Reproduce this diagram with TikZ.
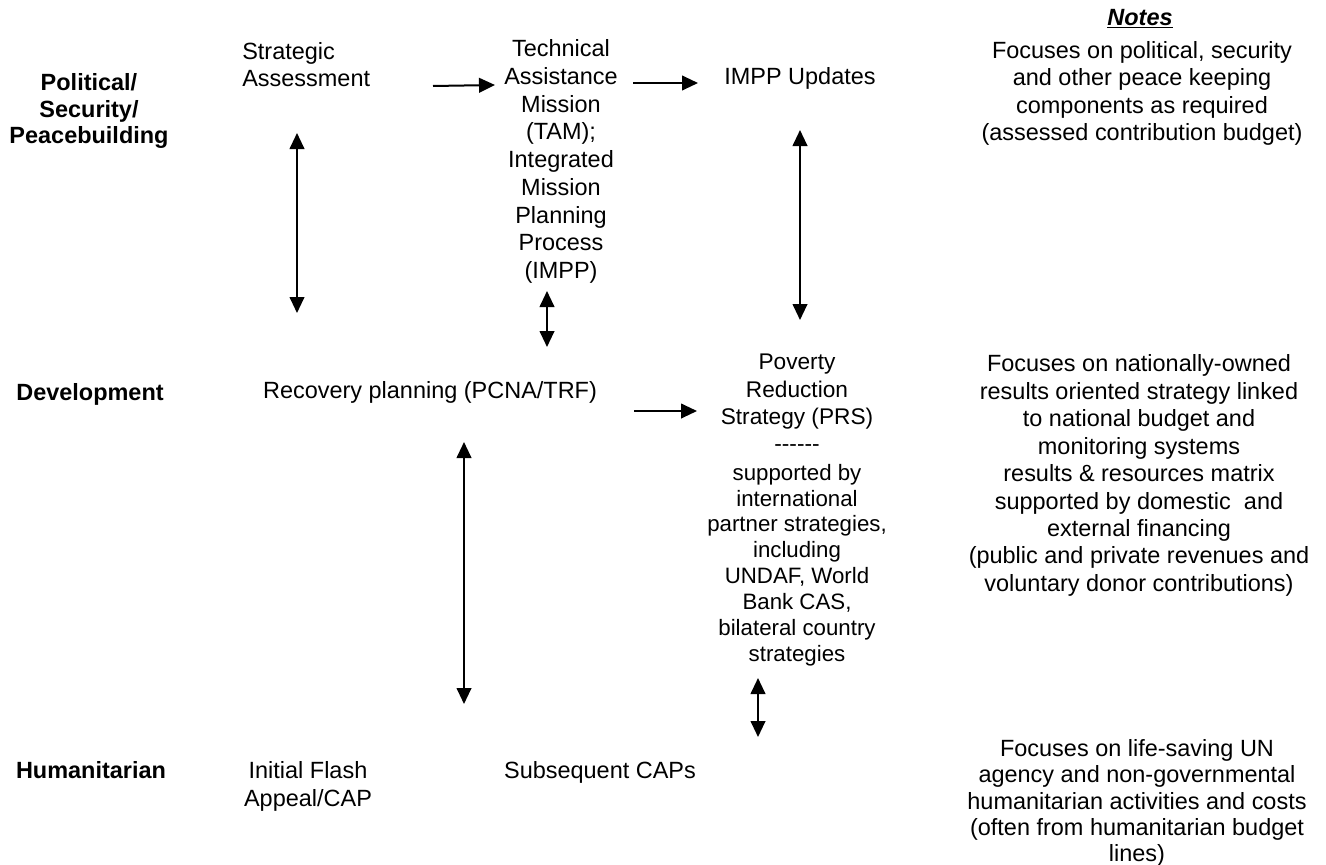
\documentclass[tikz,border=0pt]{standalone}
\usepackage{fontspec}
\setmainfont{Liberation Sans}
\usetikzlibrary{arrows.meta}
\begin{document}
\begin{tikzpicture}[x=0.75pt,y=-0.75pt,
  txt/.style={inner sep=0pt, align=center, font=\fontsize{17.6}{20.6}\selectfont},
  lbl/.style={inner sep=0pt, align=center, font=\fontsize{17.6}{19.9}\selectfont\bfseries},
  tip/.style={},
  arr/.style={line width=1.5pt, -{Triangle[length=12pt,width=11pt]}},
  darr/.style={line width=1.5pt, {Triangle[length=12pt,width=11pt]}-{Triangle[length=12pt,width=11pt]}}]
\useasboundingbox (0,0) rectangle (1326,864);

% row labels
\node[lbl] (pol) at (89,111) {Political/\\Security/\\Peacebuilding};
\node[lbl] (dev) at (90,394) {Development};
\node[lbl] (hum) at (91,770) {Humanitarian};

% political row
\node[txt, anchor=west, align=left] (sa) at (242,64.5) {Strategic\\Assessment};
\node[txt, font=\fontsize{17.6}{20.8}\selectfont] (tam) at (561,161.5) {Technical\\Assistance\\Mission\\(TAM);\\Integrated\\Mission\\Planning\\Process\\(IMPP)};
\node[txt] (impp) at (800,78) {IMPP Updates};

% notes
\node[inner sep=0pt, font=\fontsize{17.6}{20.6}\selectfont\bfseries\itshape] (notes) at (1140,18.5) {\underline{Notes}};
\node[txt, font=\fontsize{17.6}{20.4}\selectfont] (n1) at (1142,93.5) {Focuses on political, security\\and other peace keeping\\components as required\\(assessed contribution budget)};
\node[txt] (n2) at (1139,475.5) {Focuses on nationally-owned\\results oriented strategy linked\\to national budget and\\monitoring systems\\results \& resources matrix\\supported by domestic\ \ and\\external financing\\(public and private revenues and\\voluntary donor contributions)};
\node[txt, font=\fontsize{17.6}{19.7}\selectfont] (n3) at (1137,803) {Focuses on life-saving UN\\agency and non-governmental\\humanitarian activities and costs\\(often from humanitarian budget\\lines)};

% development row
\node[txt] (rec) at (430,392) {Recovery planning (PCNA/TRF)};
\node[txt, font=\fontsize{17}{20.5}\selectfont] (prs) at (797,403) {Poverty\\Reduction\\Strategy (PRS)\\-{}-{}-{}-{}-{}-};
\node[txt, font=\fontsize{16.7}{19.4}\selectfont] (prsb) at (797,565) {supported by\\international\\partner strategies,\\including\\UNDAF, World\\Bank CAS,\\bilateral country\\strategies};

% humanitarian row
\node[txt] (ifa) at (308,786.5) {Initial Flash\\Appeal/CAP};
\node[txt] (sub) at (600,772) {Subsequent CAPs};

% arrow end points
\coordinate (a1s) at (433,86);  \coordinate (a1e) at (495,85);
\coordinate (a2s) at (633,83);  \coordinate (a2e) at (698,83);
\coordinate (a3s) at (297,133); \coordinate (a3e) at (297,313);
\coordinate (a4s) at (800,130); \coordinate (a4e) at (800,320);
\coordinate (a5s) at (547,291); \coordinate (a5e) at (547,347);
\coordinate (a6s) at (634,411); \coordinate (a6e) at (697,411);
\coordinate (a7s) at (464,442); \coordinate (a7e) at (464,704);
\coordinate (a8s) at (758,678); \coordinate (a8e) at (758,737);

\draw[arr] (a1s) -- (a1e);
\draw[arr] (a2s) -- (a2e);
\draw[darr] (a3s) -- (a3e);
\draw[darr] (a4s) -- (a4e);
\draw[darr] (a5s) -- (a5e);
\draw[arr] (a6s) -- (a6e);
\draw[darr] (a7s) -- (a7e);
\draw[darr] (a8s) -- (a8e);
\end{tikzpicture}
\end{document}
